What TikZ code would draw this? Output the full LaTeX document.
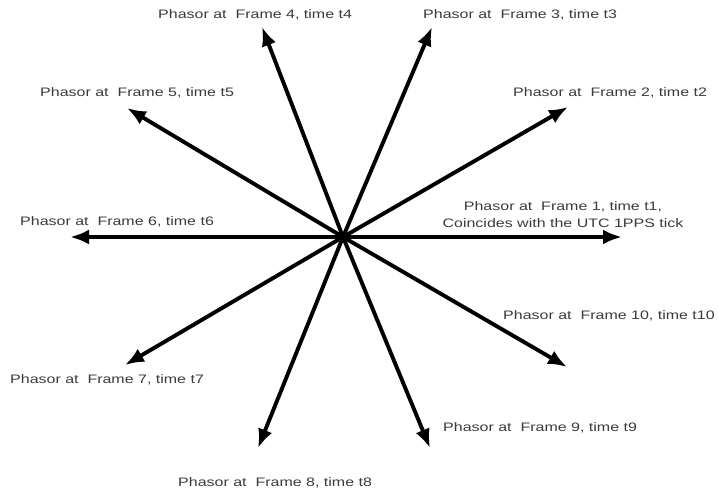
\documentclass[tikz,border=0pt]{standalone}
\usepackage{fontspec}
\newfontfamily\labfont[FakeStretch=1.3]{Liberation Sans}
\usetikzlibrary{arrows.meta}
\definecolor{labgray}{HTML}{3A3A3A}
\begin{document}
\begin{tikzpicture}[x=1pt,y=-1pt,
  phasor/.style={line width=3.9pt,-{Latex[length=19pt,width=15pt]}},
  lab/.style={anchor=base west,inner sep=0pt,text=labgray,font=\labfont\fontsize{12.3}{17}\selectfont}]
\useasboundingbox (0,0) rectangle (719,492);
\coordinate (o) at (343,237);
\coordinate (p1) at (622,237);
\coordinate (p2) at (568,107);
\coordinate (p3) at (432,27);
\coordinate (p4) at (262,27);
\coordinate (p5) at (127,108);
\coordinate (p6) at (70,237);
\coordinate (p7) at (125,365);
\coordinate (p8) at (258,448);
\coordinate (p9) at (430,448);
\coordinate (p10) at (567,367);
\foreach \i in {1,...,10} \draw[phasor] (o) -- (p\i);
\node[anchor=center,inner sep=0pt,text=labgray,align=center,font=\labfont\fontsize{12.3}{17}\selectfont] (l1) at (563,215) {Phasor at\ \ Frame 1, time t1,\\Coincides with the UTC 1PPS tick};
\node[lab] (l2) at (513,97) {Phasor at\ \ Frame 2, time t2};
\node[lab] (l3) at (423,19) {Phasor at\ \ Frame 3, time t3};
\node[lab] (l4) at (158,19) {Phasor at\ \ Frame 4, time t4};
\node[lab] (l5) at (40,97) {Phasor at\ \ Frame 5, time t5};
\node[lab] (l6) at (20,225) {Phasor at\ \ Frame 6, time t6};
\node[lab] (l7) at (10,383) {Phasor at\ \ Frame 7, time t7};
\node[lab] (l8) at (178,486) {Phasor at\ \ Frame 8, time t8};
\node[lab] (l9) at (443,431) {Phasor at\ \ Frame 9, time t9};
\node[lab] (l10) at (503,319) {Phasor at\ \ Frame 10, time t10};
\end{tikzpicture}
\end{document}
